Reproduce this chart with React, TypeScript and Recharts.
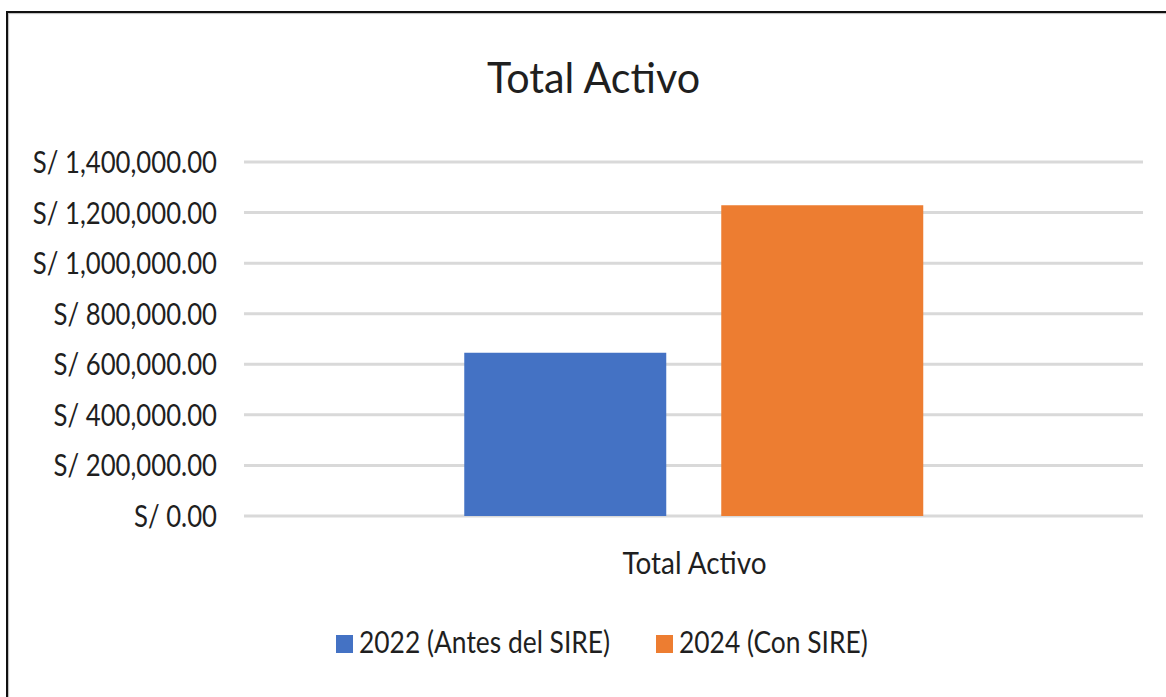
import React from "react";
import {
  BarChart,
  Bar,
  XAxis,
  YAxis,
  CartesianGrid,
  Legend,
} from "recharts";

const categories = ["Total Activo"];
const values2022 = [646000];
const values2024 = [1229000];
const yTicks = [0, 200000, 400000, 600000, 800000, 1000000, 1200000, 1400000];
const seriesNames = ["2022 (Antes del SIRE)", "2024 (Con SIRE)"];
const seriesColors = ["#4472C4", "#ED7D31"];
const chartTitle = "Total Activo";

const data = categories.map((name, i) => ({
  name,
  a: values2022[i],
  b: values2024[i],
}));

const FONT = "Lato, sans-serif";
const TEXT = "#1f1f1f";

const fmt = (v: number) =>
  "S/ " +
  v.toLocaleString("en-US", { minimumFractionDigits: 2, maximumFractionDigits: 2 });

// the source picture is narrower than it is tall, so text gets squeezed sideways
function Squeezed({ x, y, anchor, size, sx, children }: any) {
  return (
    <text
      transform={`translate(${x} ${y}) scale(${sx} 1)`}
      textAnchor={anchor}
      fontFamily={FONT}
      fontSize={size}
      fill={TEXT}
    >
      {children}
    </text>
  );
}

function YTick({ x, y, payload }: any) {
  return (
    <Squeezed x={x} y={y + 11} anchor="end" size={31} sx={0.83}>
      {fmt(payload.value)}
    </Squeezed>
  );
}

function XTick({ x, y, payload }: any) {
  return (
    <Squeezed x={x + 1} y={y + 58} anchor="middle" size={31} sx={0.9}>
      {payload.value}
    </Squeezed>
  );
}

const legendX = [[336, 359], [656, 679]];

function LegendBox() {
  return (
    <svg width={1166} height={45} style={{ display: "block" }}>
      {seriesNames.map((n, i) => (
        <g key={n}>
          <rect x={legendX[i][0]} y={15} width={17} height={18} fill={seriesColors[i]} />
          <Squeezed x={legendX[i][1]} y={33} anchor="start" size={30} sx={0.88}>
            {n}
          </Squeezed>
        </g>
      ))}
    </svg>
  );
}

export default function App() {
  return (
    <div style={{ position: "absolute", left: 0, top: 0, width: 1166, height: 697, overflow: "hidden", background: "#fff" }}>
      <div
        style={{
          position: "absolute",
          left: 6,
          top: 11,
          width: 1200,
          height: 720,
          borderLeft: "2px solid #111",
          borderTop: "2px solid #111",
          boxShadow: "inset 1px 1px 1px #bbb",
        }}
      />
      <svg width={1166} height={120} style={{ position: "absolute", left: 0, top: 0 }}>
        <Squeezed x={593.5} y={93} anchor="middle" size={43} sx={0.96}>
          {chartTitle}
        </Squeezed>
      </svg>
      <div style={{ position: "absolute", left: 0, top: 0 }}>
        <BarChart
          width={1166}
          height={697}
          data={data}
          margin={{ top: 162, right: 23, bottom: 0, left: 0 }}
          barCategoryGap="24.5%"
          barGap={55}
        >
          <CartesianGrid vertical={false} stroke="#d9d9d9" strokeWidth={3} />
          <XAxis
            dataKey="name"
            axisLine={false}
            tickLine={false}
            tickSize={0}
            tickMargin={0}
            height={181}
            tick={<XTick />}
          />
          <YAxis
            domain={[0, 1400000]}
            ticks={yTicks}
            axisLine={false}
            tickLine={false}
            tickSize={0}
            tickMargin={27}
            width={244}
            tick={<YTick />}
          />
          <Legend
            verticalAlign="middle"
            align="center"
            wrapperStyle={{ top: 620, left: 0, width: 1166 }}
            content={() => <LegendBox />}
          />
          <Bar dataKey="a" name={seriesNames[0]} fill={seriesColors[0]} isAnimationActive={false} />
          <Bar dataKey="b" name={seriesNames[1]} fill={seriesColors[1]} isAnimationActive={false} />
        </BarChart>
      </div>
    </div>
  );
}
